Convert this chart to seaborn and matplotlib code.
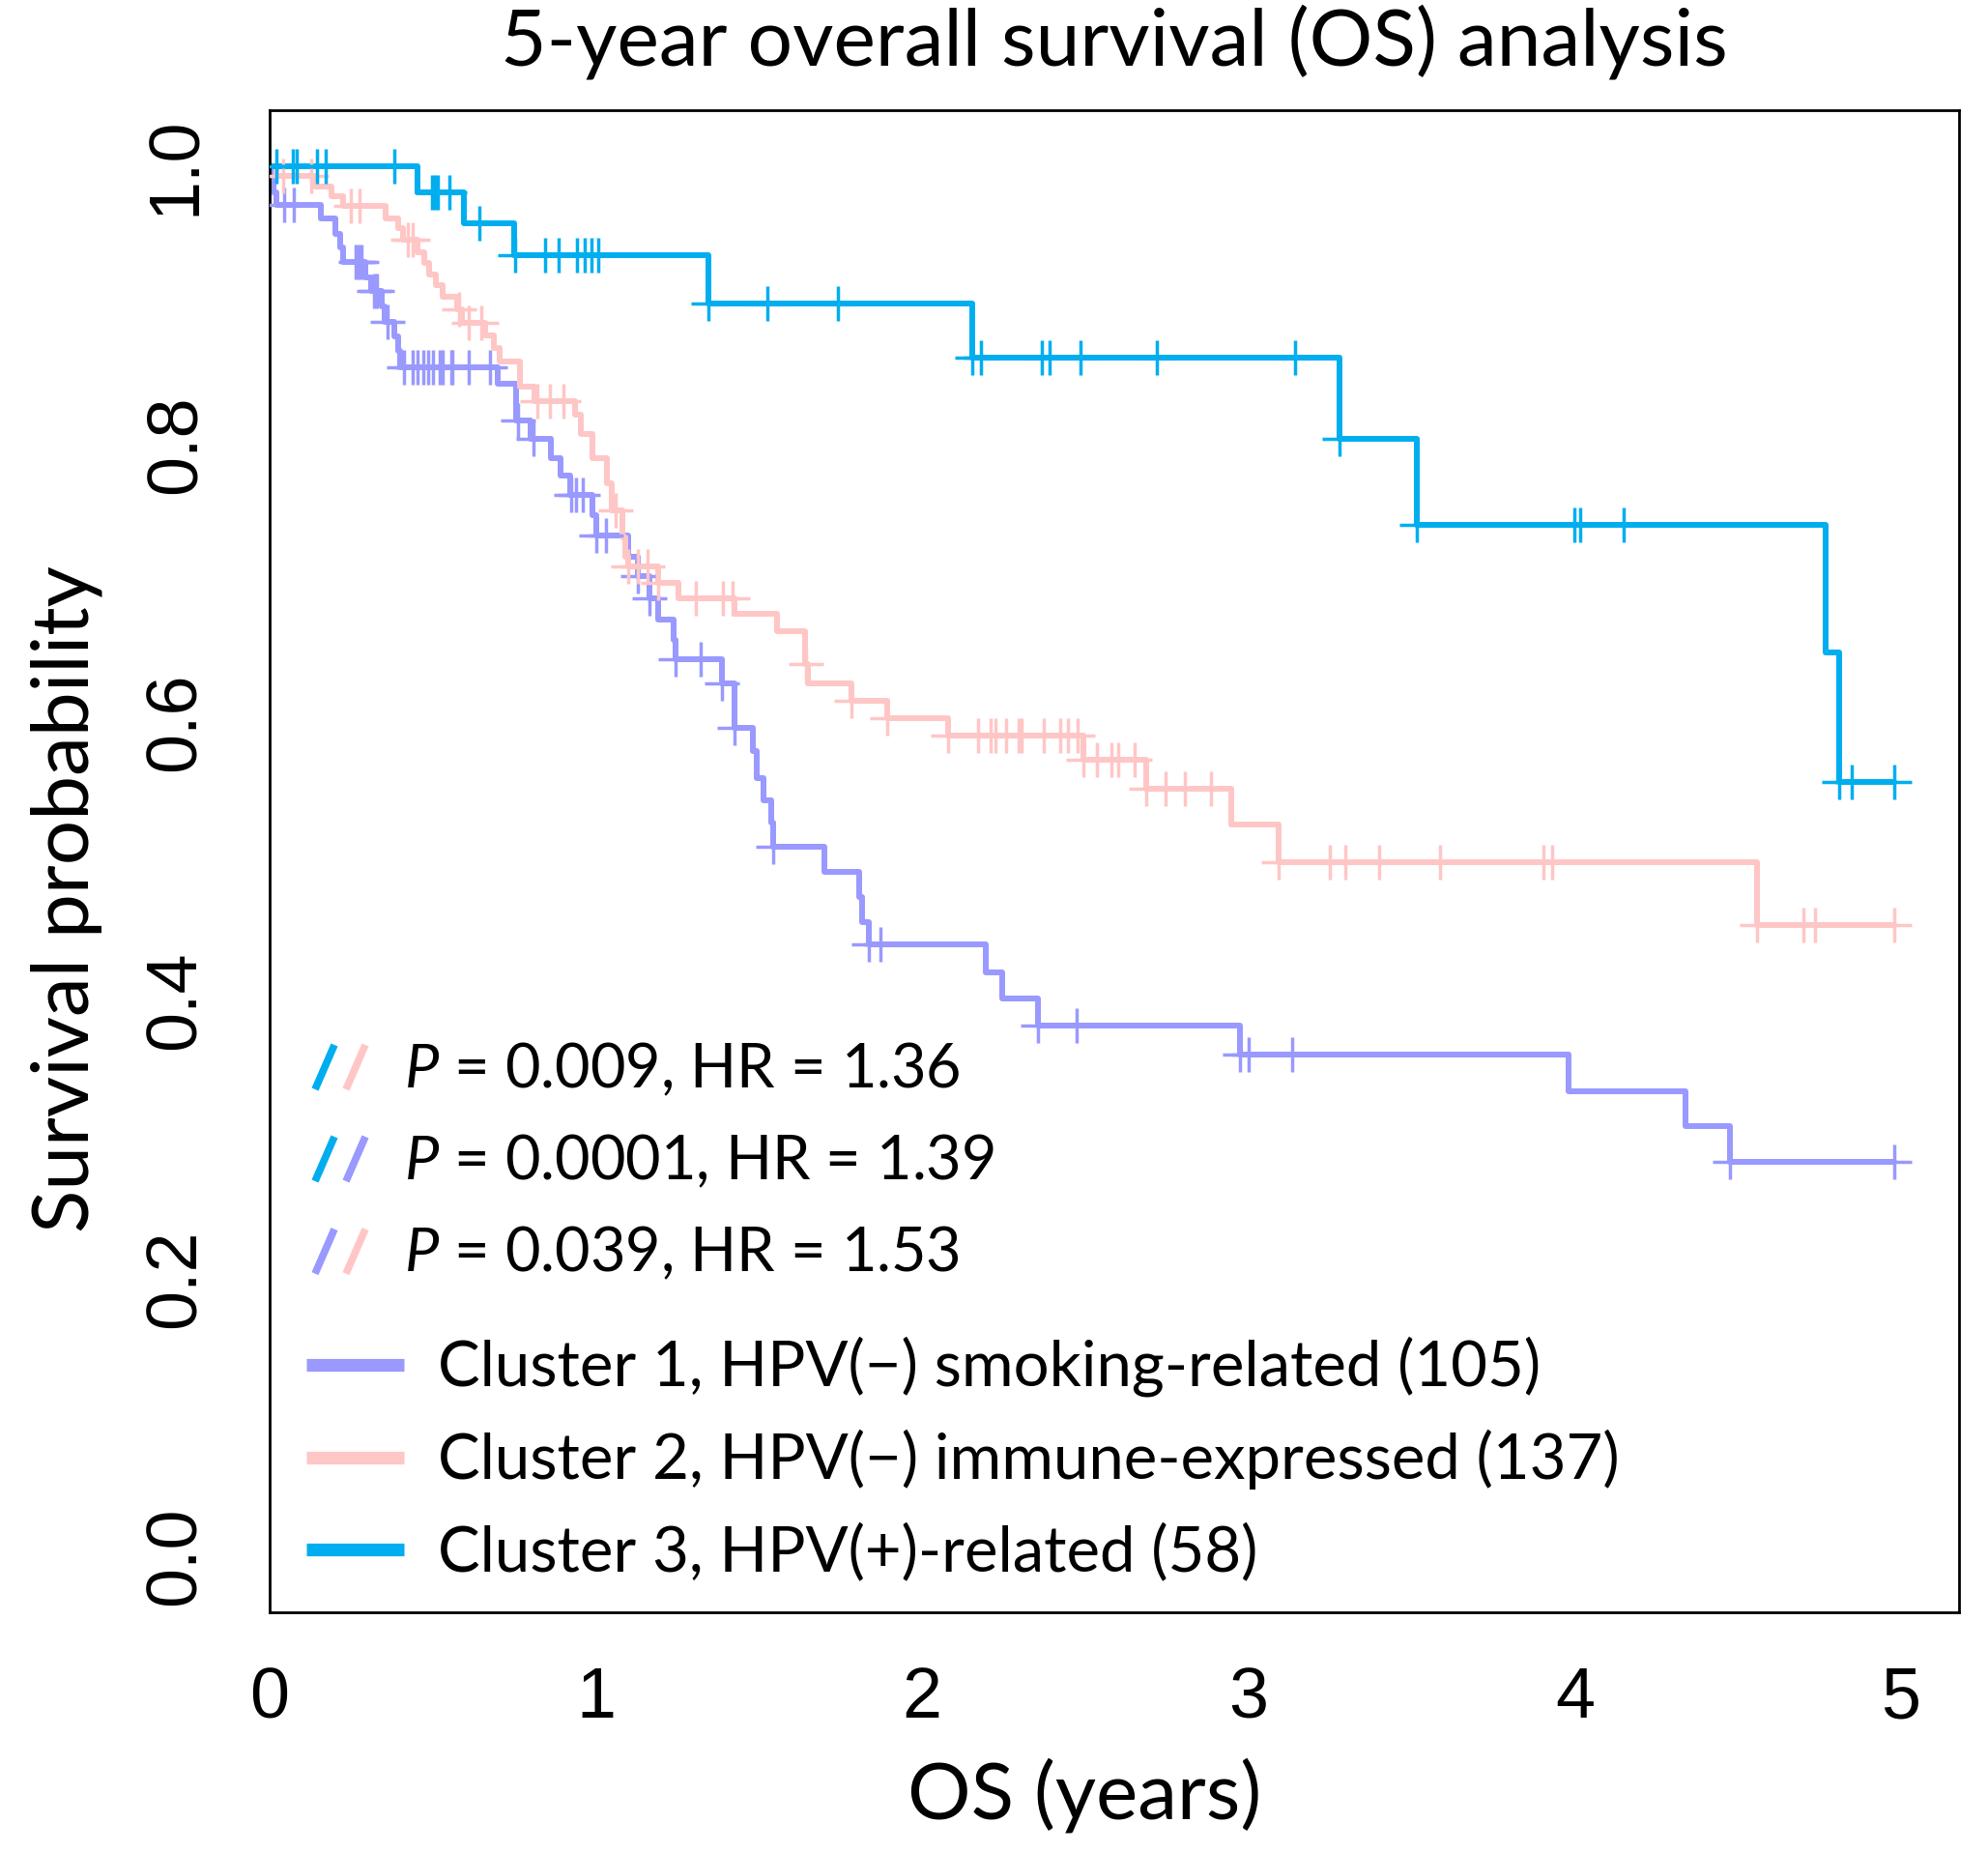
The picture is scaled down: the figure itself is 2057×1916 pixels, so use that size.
import numpy as np
import pandas as pd
import matplotlib
matplotlib.use("Agg")
import matplotlib.pyplot as plt
import seaborn as sns

# ---------------- data ----------------
clusters = ["Cluster 1", "Cluster 2", "Cluster 3"]
legend_labels = ["Cluster 1, HPV(\u2212) smoking-related (105)",
                 "Cluster 2, HPV(\u2212) immune-expressed (137)",
                 "Cluster 3, HPV(+)-related (58)"]
colors = ["#9999FF", "#FFC6C6", "#00AEEF"]

# Cluster 1: event times and survival after each event, censor times
c1_event_t = [0.005, 0.012, 0.02, 0.158, 0.20, 0.215, 0.225, 0.292, 0.312, 0.344, 0.352,
              0.383, 0.393, 0.40, 0.70, 0.755, 0.80, 0.863, 0.892, 0.92, 0.988, 1.00,
              1.10, 1.13, 1.164, 1.192, 1.237, 1.243, 1.385, 1.424, 1.48, 1.492, 1.515,
              1.537, 1.543, 1.70, 1.808, 1.815, 1.837, 2.195, 2.246, 2.355, 2.975,
              3.981, 4.340, 4.475]
c1_event_s = [0.991, 0.981, 0.972, 0.962, 0.951, 0.941, 0.931, 0.920, 0.910, 0.899, 0.888,
              0.877, 0.867, 0.855, 0.843, 0.817, 0.804, 0.790, 0.777, 0.763, 0.749, 0.734,
              0.719, 0.705, 0.689, 0.674, 0.659, 0.645, 0.628, 0.596, 0.579, 0.560, 0.544,
              0.528, 0.510, 0.492, 0.474, 0.456, 0.440, 0.420, 0.401, 0.382, 0.361,
              0.3345, 0.3095, 0.284]
c1_cens_t = [0.045, 0.075, 0.263, 0.273, 0.282, 0.32, 0.33, 0.36, 0.413, 0.437, 0.452,
             0.472, 0.487, 0.502, 0.521, 0.531, 0.556, 0.561, 0.61, 0.676, 0.76, 0.81,
             0.925, 0.94, 0.96, 1.0, 1.03, 1.13, 1.164, 1.245, 1.322, 1.385, 1.424, 1.543,
             1.837, 1.872, 2.355, 2.473, 2.975, 3.0, 3.135, 4.475, 4.98]

# Cluster 2
c2_event_t = [0.02, 0.14, 0.19, 0.225, 0.354, 0.393, 0.41, 0.452, 0.475, 0.49, 0.51, 0.53,
              0.575, 0.59, 0.66, 0.687, 0.705, 0.767, 0.812, 0.937, 0.955, 0.99, 1.035,
              1.05, 1.08, 1.09, 1.10, 1.19, 1.254, 1.424, 1.556, 1.64, 1.65, 1.784, 1.894,
              2.079, 2.493, 2.687, 2.947, 3.093, 4.558]
c2_event_s = [0.993, 0.985, 0.978, 0.971, 0.962, 0.955, 0.947, 0.938, 0.930, 0.922, 0.914,
              0.906, 0.897, 0.887, 0.878, 0.869, 0.859, 0.841, 0.831, 0.821, 0.807, 0.790,
              0.772, 0.752, 0.733, 0.719, 0.712, 0.700, 0.689, 0.678, 0.665, 0.642, 0.628,
              0.615, 0.603, 0.590, 0.573, 0.552, 0.526, 0.4995, 0.454]
c2_cens_t = [0.04, 0.126, 0.25, 0.275, 0.423, 0.437, 0.58, 0.61, 0.65, 0.82, 0.86, 0.90,
             1.06, 1.10, 1.13, 1.158, 1.19, 1.305, 1.39, 1.418, 1.645, 1.784, 1.894, 2.079,
             2.171, 2.211, 2.225, 2.257, 2.297, 2.304, 2.374, 2.424, 2.447, 2.476, 2.495,
             2.535, 2.581, 2.601, 2.651, 2.687, 2.747, 2.806, 2.886, 3.093, 3.249, 3.296,
             3.40, 3.586, 3.904, 3.931, 4.558, 4.70, 4.737, 4.98]

# Cluster 3
c3_event_t = [0.452, 0.594, 0.75, 1.345, 2.152, 3.278, 3.516, 4.770, 4.809]
c3_event_s = [0.981, 0.959, 0.936, 0.901, 0.862, 0.804, 0.742, 0.650, 0.557]
c3_cens_t = [0.02, 0.072, 0.082, 0.146, 0.171, 0.383, 0.497, 0.506, 0.516, 0.551, 0.642,
             0.753, 0.844, 0.886, 0.942, 0.965, 0.985, 1.007, 1.345, 1.524, 1.741, 2.153,
             2.181, 2.366, 2.390, 2.486, 2.720, 3.143, 3.278, 3.516, 4.0, 4.018, 4.150,
             4.809, 4.850, 4.98]

p_values = ["0.009", "0.0001", "0.039"]
hr_values = ["1.36", "1.39", "1.53"]
pair_idx = [(2, 1), (2, 0), (0, 1)]

x_ticks = [0, 1, 2, 3, 4, 5]
y_ticks = [0.0, 0.2, 0.4, 0.6, 0.8, 1.0]
y_tick_labels = ["0.0", "0.2", "0.4", "0.6", "0.8", "1.0"]

title = "5-year overall survival (OS) analysis"
x_label = "OS (years)"
y_label = "Survival probability"

events = [(c1_event_t, c1_event_s, c1_cens_t),
          (c2_event_t, c2_event_s, c2_cens_t),
          (c3_event_t, c3_event_s, c3_cens_t)]


def km_frame(name, et, es, ct):
    end = max(ct)
    t = [0.0] + list(et) + [end]
    s = [1.0] + list(es) + [es[-1]]
    return pd.DataFrame({"time": t, "surv": s, "cluster": name})


def cens_frame(name, et, es, ct):
    idx = np.searchsorted(np.asarray(et), np.asarray(ct), side="right")
    s = np.concatenate([[1.0], es])[idx]
    return pd.DataFrame({"time": ct, "surv": s, "cluster": name})


# ---------------- style ----------------
sns.set_theme(style="white")
plt.rcParams["font.family"] = ["Lato", "DejaVu Sans"]
plt.rcParams["mathtext.fontset"] = "custom"
plt.rcParams["mathtext.it"] = "Lato:italic"
plt.rcParams["mathtext.rm"] = "Lato"
plt.rcParams["text.color"] = "black"
plt.rcParams["axes.labelcolor"] = "black"
plt.rcParams["axes.titlecolor"] = "black"
plt.rcParams["xtick.color"] = "black"
plt.rcParams["ytick.color"] = "black"

W, H = 2057, 1916
fig = plt.figure(figsize=(W / 100, H / 100), dpi=100)
fig.patch.set_facecolor("white")
# axes box in pixels: left 279, right 2027, top 114, bottom 1667.7
L, R, T, B = 279, 2027, 114, 1667.7
ax = fig.add_axes([L / W, (H - B) / H, (R - L) / W, (B - T) / H])
ax.set_facecolor("white")

for i, name in enumerate(clusters):
    et, es, ct = events[i]
    sns.lineplot(data=km_frame(name, et, es, ct), x="time", y="surv",
                 estimator=None, sort=False, color=colors[i],
                 drawstyle="steps-post", linewidth=4.3, ax=ax, legend=False)
    sns.scatterplot(data=cens_frame(name, et, es, ct), x="time", y="surv",
                    color=colors[i], marker="+", s=26 ** 2, linewidth=2.5,
                    ax=ax, legend=False, zorder=3)

ax.set_xlim(0, 5.1777)
ax.set_ylim(-0.04, 1.04)
ax.set_xticks(x_ticks)
ax.set_xticklabels([str(v) for v in x_ticks])
ax.set_yticks(y_ticks)
ax.set_yticklabels(y_tick_labels)
for sp in ax.spines.values():
    sp.set_visible(True)
    sp.set_color("black")
    sp.set_linewidth(2.0)
ax.tick_params(axis="both", direction="out", length=22, width=1.6, color="black",
               labelcolor="black", labelsize=53)
ax.tick_params(axis="x", pad=18)
ax.tick_params(axis="y", pad=23)
for lbl in ax.get_xticklabels() + ax.get_yticklabels():
    lbl.set_fontfamily("Liberation Sans")
for lbl in ax.get_yticklabels():
    lbl.set_rotation(90)
    lbl.set_va("center")
    lbl.set_ha("right")

ax.set_xlabel(x_label, fontsize=55, color="black")
ax.set_ylabel(y_label, fontsize=55, color="black")
ax.xaxis.set_label_coords(((1122) - L) / (R - L), (B - 1882) / (B - T))
ax.xaxis.label.set_va("baseline")
ax.yaxis.set_label_coords((92 - L) / (R - L), (B - 929.6) / (B - T))
ax.yaxis.label.set_rotation_mode("anchor")
ax.yaxis.label.set_va("baseline")
ax.yaxis.label.set_ha("center")
ttl = ax.set_title(title, fontsize=45, y=(B - 68) / (B - T), va="baseline", pad=0,
                   color="black")


def fx(px):
    return (px - L) / (R - L)


def fy(py):
    return (B - py) / (B - T)


# P-value rows with slash markers
p_rows_y = [1104, 1199, 1294.6]
p_texts = []
for k in range(3):
    yc = p_rows_y[k]
    for j, (x0, x1) in enumerate([(326, 346), (358, 378)]):
        ax.plot([fx(x0), fx(x1)], [fy(yc + 23), fy(yc - 23)], transform=ax.transAxes,
                color=colors[pair_idx[k][j]], linewidth=5.5, solid_capstyle="butt",
                clip_on=False)
    p_texts.append(ax.text(fx(418), fy(yc + 21), r"$P$ = " + p_values[k] + ", HR = " + hr_values[k],
                           transform=ax.transAxes, fontsize=44, va="baseline", ha="left",
                           color="black"))

# cluster legend
leg_rows_y = [1411.7, 1508.3, 1603.3]
leg_texts = []
for k in range(3):
    yc = leg_rows_y[k]
    ax.plot([fx(316.6), fx(418.4)], [fy(yc), fy(yc)], transform=ax.transAxes,
            color=colors[k], linewidth=9.5, solid_capstyle="butt", clip_on=False)
    leg_texts.append(ax.text(fx(452.6), fy(yc + 22), legend_labels[k], transform=ax.transAxes,
                             fontsize=44, va="baseline", ha="left", color="black"))

# fit text sizes to the widths measured in the reference
fig.canvas.draw()
r = fig.canvas.get_renderer()


def fit(t, target, vertical=False):
    bb = t.get_window_extent(r)
    cur = bb.height if vertical else bb.width
    return t.get_fontsize() * target / cur


fs_title = fit(ttl, 1273)
fs_x = fit(ax.xaxis.label, 361)
fs_y = fit(ax.yaxis.label, 699, vertical=True)
fs_p = fit(p_texts[0], 576)
fs_leg = fit(leg_texts[0], 1143)
ttl.set_fontsize(fs_title)
fs_lab = 0.5 * (fs_x + fs_y)
ax.xaxis.label.set_fontsize(fs_lab)
ax.yaxis.label.set_fontsize(fs_lab)
for t in p_texts:
    t.set_fontsize(fs_p)
for t in leg_texts:
    t.set_fontsize(fs_leg)

fig.savefig("out.png", dpi=100, facecolor="white")
